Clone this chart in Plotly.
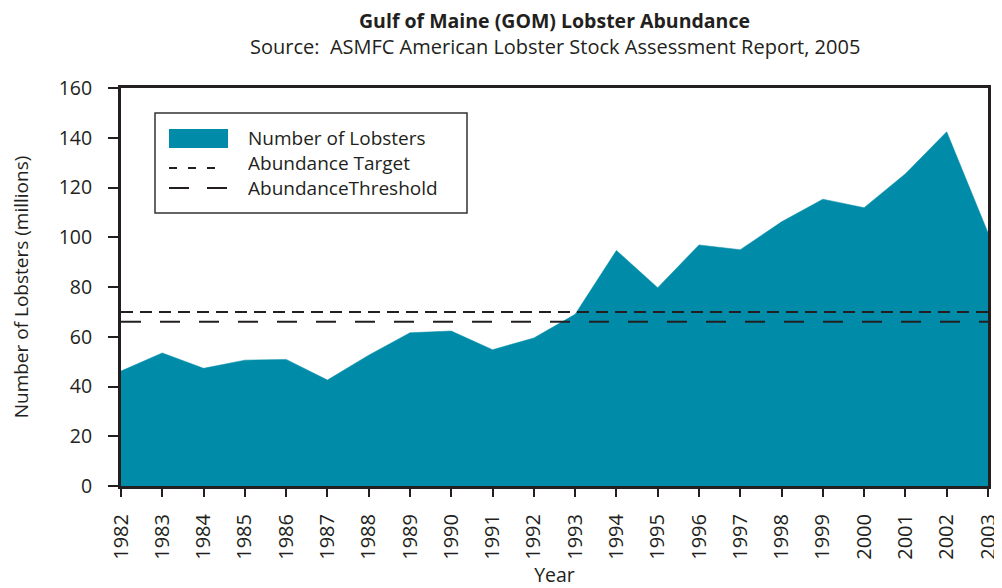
import plotly.graph_objects as go

years = list(range(1982, 2004))
lobsters = [46.2, 53.5, 47.3, 50.6, 50.9, 42.6, 52.6, 61.6, 62.3, 54.8, 59.5,
            69.0, 94.7, 79.7, 96.9, 95.0, 106.2, 115.3, 111.9, 125.5, 142.4, 101.8]
abundance_target = 70
abundance_threshold = 66
y_ticks = [0, 20, 40, 60, 80, 100, 120, 140, 160]
series_names = ["Number of Lobsters", "Abundance Target", "AbundanceThreshold"]

FONT = "Open Sans"
INK = "#231f20"
TEAL = "#008ca8"
TARGET_DASH = "12px,7px"
THRESH_DASH = "20px,19px"

# The page body has an 8px default margin, so the figure is drawn 8px
# right/down; work in screen pixels and subtract it.
OFF = 8
FIG_W, FIG_H = 1002 - OFF, 588 - OFF
# plot-area geometry in screen pixels
L, R, T, B = 121, 988, 88, 486


def px(x):
    return (x - L) / (R - L)


def py(y):
    return (B - y) / (B - T)


fig = go.Figure()
fig.add_trace(go.Scatter(
    x=years, y=lobsters, mode="lines", fill="tozeroy",
    fillcolor=TEAL, line=dict(color=TEAL, width=0.5),
    name=series_names[0], showlegend=False))
fig.add_trace(go.Scatter(
    x=[years[0], years[-1]], y=[abundance_target] * 2, mode="lines",
    line=dict(color=INK, width=2, dash=TARGET_DASH),
    name=series_names[1], showlegend=False))
fig.add_trace(go.Scatter(
    x=[years[0], years[-1]], y=[abundance_threshold] * 2, mode="lines",
    line=dict(color=INK, width=2, dash=THRESH_DASH),
    name=series_names[2], showlegend=False))

# legend box drawn in paper coordinates
shapes = [
    dict(type="rect", xref="paper", yref="paper",
         x0=px(155), x1=px(467), y0=py(213), y1=py(113),
         line=dict(color="#333333", width=1.5), fillcolor="white", layer="above"),
    dict(type="rect", xref="paper", yref="paper",
         x0=px(169), x1=px(228), y0=py(148), y1=py(129),
         line=dict(width=0), fillcolor=TEAL, layer="above"),
    dict(type="line", xref="paper", yref="paper",
         x0=px(169), x1=px(216), y0=py(168), y1=py(168),
         line=dict(color=INK, width=2, dash="8px,11px"), layer="above"),
    dict(type="line", xref="paper", yref="paper",
         x0=px(169), x1=px(228), y0=py(188), y1=py(188),
         line=dict(color=INK, width=2, dash="20px,18px"), layer="above"),
]
legend_rows_y = [138, 163, 188]
annotations = [
    dict(text=name, xref="paper", yref="paper", x=px(246), y=py(yy),
         xanchor="left", yanchor="middle", showarrow=False,
         font=dict(family=FONT, size=19, color=INK))
    for name, yy in zip(series_names, legend_rows_y)
]
annotations += [
    dict(text="<b>Gulf of Maine (GOM) Lobster Abundance</b>",
         xref="paper", yref="paper", x=0.5, y=1.0, yshift=T - 20,
         showarrow=False, font=dict(family=FONT, size=19.5, color=INK),
         xanchor="center", yanchor="middle"),
    dict(text="Source:  ASMFC American Lobster Stock Assessment Report, 2005",
         xref="paper", yref="paper", x=0.5, y=1.0, yshift=T - 46,
         showarrow=False, font=dict(family=FONT, size=20, color=INK),
         xanchor="center", yanchor="middle"),
]

fig.update_layout(
    width=FIG_W, height=FIG_H,
    margin=dict(l=L - OFF, r=OFF + FIG_W - R, t=T - OFF, b=OFF + FIG_H - B),
    paper_bgcolor="white", plot_bgcolor="white",
    font=dict(family=FONT, size=19, color=INK),
    showlegend=False,
    xaxis=dict(
        range=[years[0], years[-1]], tickmode="array", tickvals=years,
        ticktext=[str(y) for y in years], tickangle=-90,
        ticks="outside", ticklen=8, tickwidth=1.5, tickcolor=INK,
        ticklabelstandoff=9,
        showline=True, linewidth=3, linecolor=INK, mirror=True,
        showgrid=False, zeroline=False, automargin=False,
        tickfont=dict(family=FONT, size=20, color=INK),
        title=dict(text="Year", font=dict(family=FONT, size=19.5, color=INK), standoff=12),
    ),
    yaxis=dict(
        range=[0, 160], tickmode="array", tickvals=y_ticks,
        ticks="outside", ticklen=10, tickwidth=1.5, tickcolor=INK,
        ticklabelstandoff=12,
        showline=True, linewidth=3, linecolor=INK, mirror=True,
        showgrid=False, zeroline=False, automargin=False,
        tickfont=dict(family=FONT, size=19.5, color=INK),
        title=dict(text="Number of Lobsters (millions)",
                   font=dict(family=FONT, size=19, color=INK), standoff=32),
    ),
    shapes=shapes,
    annotations=annotations,
)

fig.write_html("out.html")
